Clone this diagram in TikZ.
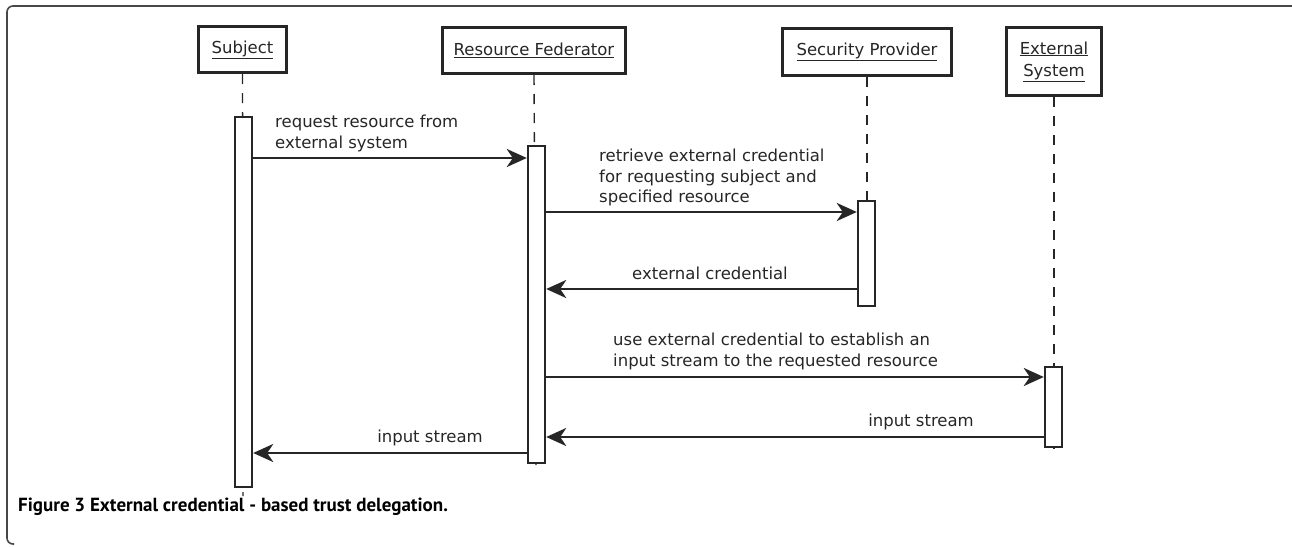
\documentclass[tikz,border=0pt]{standalone}
\usepackage{fontspec}
\setmainfont{DejaVu Sans}
\newfontfamily\capfont{PT Sans}
\usetikzlibrary{arrows.meta}
\definecolor{ink}{HTML}{262626}
\tikzset{
	actor/.style={draw=ink, line width=3pt, fill=white, inner sep=0pt, align=center,
		font=\fontsize{16.5}{22}\selectfont, text=ink},
	bar/.style={draw=ink, line width=2.4pt, fill=white, inner sep=0pt, minimum width=17pt},
	life/.style={ink, line width=1.4pt, dash pattern=on 10pt off 9pt},
	msg/.style={ink, line width=2.6pt, -{Stealth[length=20pt,width=18pt,inset=6pt]}},
	txt/.style={font=\fontsize{16.5}{20.5}\selectfont, text=ink, align=left, inner sep=0pt},
}
\begin{document}
\begin{tikzpicture}[x=1pt, y=-1pt]
	\useasboundingbox (0,0) rectangle (1292,546);
	\draw[ink!85, line width=1.6pt, rounded corners=6pt] (1300,6) -- (7,6) -- (7,544) -- (14,544);

	% actors
	\node[actor, minimum width=88pt, minimum height=46pt] (subj) at (242.5,49.5) {\underline{Subject}};
	\node[actor, minimum width=183pt, minimum height=46pt] (fed) at (534,50.5) {\underline{Resource Federator}};
	\node[actor, minimum width=169pt, minimum height=47pt] (sec) at (867,52) {\underline{Security Provider}};
	\node[actor, minimum width=95pt, minimum height=68pt] (ext) at (1054,61.5) {\underline{External}\\\underline{System}};

	% lifelines
	\coordinate (subjend) at (243,496);
	\coordinate (fedend) at (536,472);
	\coordinate (secend) at (867,306);
	\coordinate (extend) at (1054,456);
	\draw[life] (subj.south) -- (subjend);
	\draw[life] (fed.south) -- (fedend);
	\draw[life] (sec.south) -- (secend);
	\draw[life] (ext.south) -- (extend);

	% activations
	\node[bar, minimum height=370pt] (subjbar) at (243.5,302) {};
	\node[bar, minimum height=317pt] (fedbar) at (536.5,304.5) {};
	\node[bar, minimum height=105pt] (secbar) at (866.5,253.5) {};
	\node[bar, minimum height=80pt] (extbar) at (1053.5,407) {};

	% messages
	\draw[msg] (subjbar.east |- 0,158) -- (fedbar.west |- 0,158);
	\node[txt, anchor=north west] (m1) at (275,115) {request resource from\\external system};

	\draw[msg] (fedbar.east |- 0,212) -- (secbar.west |- 0,212);
	\node[txt, anchor=north west] (m2) at (599,149) {retrieve external credential\\for requesting subject and\\specified resource};

	\draw[msg] (secbar.west |- 0,289) -- (fedbar.east |- 0,289);
	\node[txt] (m3) at (710,273) {external credential};

	\draw[msg] (fedbar.east |- 0,377) -- (extbar.west |- 0,377);
	\node[txt, anchor=north west] (m4) at (613,333) {use external credential to establish an\\input stream to the requested resource};

	\draw[msg] (extbar.west |- 0,437) -- (fedbar.east |- 0,437);
	\node[txt] (m5) at (921,422) {input stream};

	\draw[msg] (fedbar.west |- 0,453) -- (subjbar.east |- 0,453);
	\node[txt] (m6) at (430,438) {input stream};

	% caption
	\node[anchor=west, inner sep=0pt, font=\capfont\bfseries\fontsize{19}{22}\selectfont] (cap) at (18,507) {Figure 3 External credential - based trust delegation.};
\end{tikzpicture}
\end{document}
